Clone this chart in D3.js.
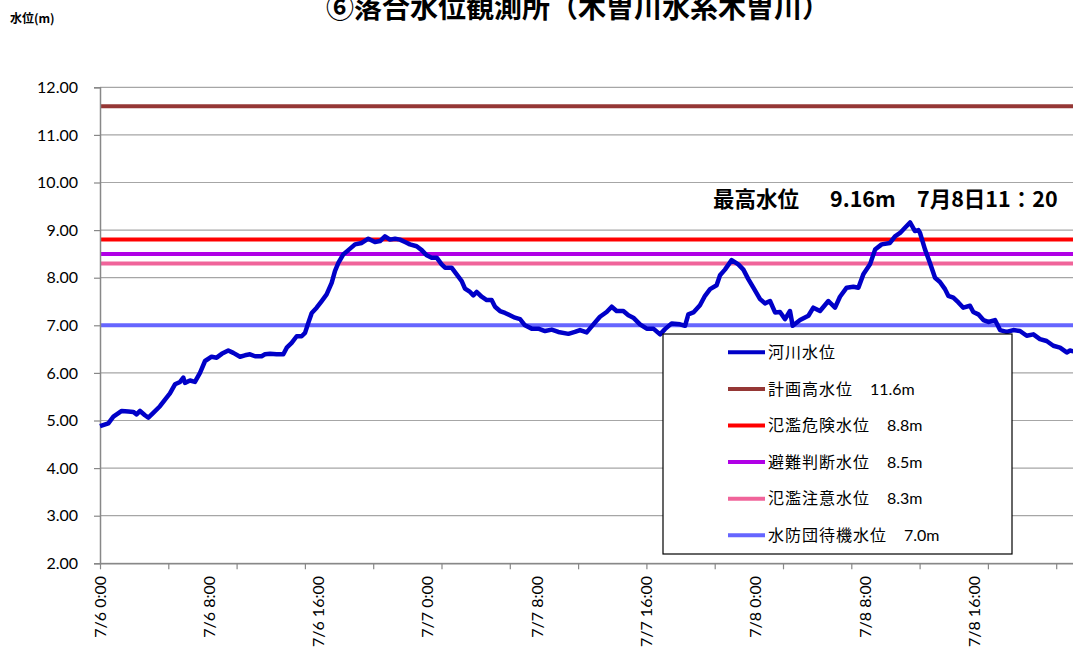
<!DOCTYPE html>
<html><head><meta charset="utf-8">
<script src="https://cdn.jsdelivr.net/npm/d3@7"></script>
<style>
html,body{margin:0;padding:0;background:#fff;overflow:hidden;}
svg{display:block;}
</style></head>
<body>
<svg id="chart" width="1073" height="649"></svg>
<script>
// ---------- data ----------
const chartTitle = "⑥落合水位観測所（木曽川水系木曽川）";
const yAxisTitle = "水位(m)";
const startDate = new Date(2018, 6, 6, 0, 0);   // 7/6 0:00
const endDate = new Date(2018, 6, 9, 0, 0);     // 7/9 0:00
// observation times: hours elapsed since 7/6 0:00
const obsHours = [0.00,0.61,0.98,1.59,2.07,2.44,2.68,2.93,3.29,3.54,3.90,4.39,4.76,5.12,5.49,5.86,6.10,6.22,6.59,6.95,7.32,7.69,8.17,8.54,8.91,9.39,9.76,10.25,10.61,10.98,11.35,11.83,12.08,12.45,12.93,13.42,13.67,14.03,14.40,14.76,15.01,15.25,15.50,15.86,16.23,16.59,16.96,17.20,17.45,17.81,18.18,18.67,19.16,19.64,20.13,20.50,20.86,21.23,21.60,21.96,22.33,22.69,23.18,23.55,23.91,24.28,24.65,25.01,25.26,25.74,26.11,26.48,26.72,27.09,27.33,27.57,27.94,28.31,28.67,28.92,29.28,29.65,30.01,30.38,30.75,31.11,31.60,32.09,32.58,33.07,33.55,34.29,34.77,
35.14,35.63,36.12,36.60,37.09,37.46,37.82,38.31,38.68,39.04,39.53,40.02,40.51,41.00,41.36,41.85,42.46,42.83,43.07,43.44,43.92,44.29,44.66,45.14,45.39,45.75,46.24,46.73,47.10,47.46,47.83,48.32,48.68,49.05,49.42,49.78,50.15,50.51,50.71,51.25,51.86,52.22,52.71,53.32,53.81,54.17,54.66,55.15,55.52,55.88,56.37,56.74,57.22,57.83,58.20,58.57,58.93,59.30,59.66,59.91,60.03,60.40,60.76,61.13,61.49,61.86,62.10,62.47,62.84,63.20,63.69,63.93,64.30,64.67,65.03,65.52,65.89,66.37,66.86,67.35,67.84,68.33,68.81,69.30,69.79,70.28,70.77,71.01,71.30];
// river water level (m)
const riverLevel = [4.88,4.94,5.08,5.20,5.19,5.18,5.13,5.20,5.11,5.06,5.16,5.30,5.44,5.57,5.76,5.81,5.90,5.79,5.84,5.81,6.00,6.25,6.34,6.32,6.40,6.47,6.42,6.34,6.37,6.39,6.35,6.35,6.39,6.40,6.39,6.39,6.53,6.63,6.77,6.77,6.84,7.05,7.26,7.37,7.51,7.65,7.89,8.14,8.31,8.49,8.58,8.70,8.73,8.82,8.75,8.77,8.87,8.80,8.82,8.80,8.75,8.70,8.66,8.58,8.47,8.42,8.42,8.28,8.21,8.21,8.07,7.93,7.77,7.70,7.63,7.70,7.60,7.53,7.53,7.39,7.30,7.26,7.21,7.16,7.13,7.00,6.93,6.93,6.88,6.91,6.86,6.82,6.86,
6.90,6.85,7.02,7.18,7.28,7.39,7.30,7.30,7.21,7.16,7.02,6.93,6.93,6.81,6.92,7.04,7.02,6.99,7.23,7.27,7.42,7.62,7.76,7.84,8.05,8.17,8.37,8.28,8.17,7.97,7.79,7.55,7.46,7.51,7.27,7.28,7.13,7.30,6.99,7.11,7.20,7.37,7.30,7.51,7.37,7.60,7.79,7.81,7.79,8.07,8.28,8.59,8.70,8.73,8.87,8.94,9.05,9.16,8.98,9.00,8.94,8.59,8.31,8.00,7.91,7.76,7.62,7.58,7.48,7.37,7.41,7.28,7.23,7.11,7.07,7.11,6.90,6.86,6.90,6.88,6.78,6.81,6.71,6.67,6.57,6.53,6.43,6.47,6.45];

const refNames  = ["計画高水位", "氾濫危険水位", "避難判断水位", "氾濫注意水位", "水防団待機水位"];
const refLevels = [11.6, 8.8, 8.5, 8.3, 7.0];
const refLabels = ["11.6m", "8.8m", "8.5m", "8.3m", "7.0m"];
const riverName = "河川水位";

const yTicks = [2,3,4,5,6,7,8,9,10,11,12];
const tickEveryHours = 5;
const labelEveryHours = 8;
const lastLabelHour = 64;

const peakLabel = ["最高水位", "9.16m", "7月8日11：20"];

// ---------- styles ----------
const riverColor = "#0000C8";
const refColors = ["#953735", "#FF0000", "#B000E6", "#F0649A", "#6666FF"];
const axisColor = "#888888";
const gridColor = "#A6A6A6";
const latin = "Lato, 'Liberation Sans', sans-serif";
const cjk = "'Noto Sans CJK JP', sans-serif";

// ---------- chart ----------
const W = 1073, H = 649;
const svg = d3.select("#chart");
const left = 100;
const pxPerHour = 13.66;
const x = d3.scaleTime().domain([startDate, endDate])
  .range([left, left + pxPerHour * (endDate - startDate) / 3600000]);
const y = d3.scaleLinear().domain([2, 12]).range([563.3, 87.3]);
const plotRight = W;
const addH = h => new Date(startDate.getTime() + h * 3600000);

// gridlines
svg.append("g").selectAll("line").data(yTicks).join("line")
  .attr("x1", left).attr("x2", plotRight)
  .attr("y1", d => y(d)).attr("y2", d => y(d))
  .attr("stroke", gridColor).attr("stroke-width", 1.2);

// reference lines
svg.append("g").selectAll("line").data(refLevels).join("line")
  .attr("x1", left).attr("x2", plotRight)
  .attr("y1", d => y(d)).attr("y2", d => y(d))
  .attr("stroke", (d, i) => refColors[i]).attr("stroke-width", 4);

// y axis
const yAxis = svg.append("g").attr("transform", `translate(${left},0)`)
  .call(d3.axisLeft(y).tickValues(yTicks).tickFormat(d3.format(".2f")).tickSize(6).tickPadding(16));
yAxis.select(".domain").attr("stroke", axisColor).attr("stroke-width", 1.5);
yAxis.selectAll(".tick line").attr("stroke", axisColor).attr("stroke-width", 1.2);
yAxis.selectAll(".tick text").attr("font-family", latin).attr("font-size", 16).attr("fill", "#000");

// x axis (ticks only)
const tickDates = d3.range(0, 72.01, tickEveryHours).map(addH);
const xAxis = svg.append("g").attr("transform", `translate(0,${y(2)})`)
  .call(d3.axisBottom(x).tickValues(tickDates).tickFormat("").tickSize(6).tickSizeOuter(0));
xAxis.select(".domain").attr("stroke", axisColor).attr("stroke-width", 1.5);
xAxis.selectAll(".tick line").attr("stroke", axisColor).attr("stroke-width", 1.2);

// x labels
const labelDates = d3.range(0, lastLabelHour + 0.01, labelEveryHours).map(addH);
const fmt = d3.timeFormat("%-m/%-d %-H:%M");
svg.append("g").selectAll("text").data(labelDates).join("text")
  .attr("transform", d => `translate(${x(d)},576) rotate(-90)`)
  .attr("text-anchor", "end").attr("dy", "0.35em")
  .attr("font-family", latin).attr("font-size", 16).attr("fill", "#000")
  .text(d => fmt(d));

// river line
const pts = obsHours.slice(0, Math.min(obsHours.length, riverLevel.length))
  .map((h, i) => [addH(h), riverLevel[i]]);
svg.append("path").datum(pts)
  .attr("fill", "none").attr("stroke", riverColor).attr("stroke-width", 4.5)
  .attr("stroke-linejoin", "round")
  .attr("d", d3.line().x(d => x(d[0])).y(d => y(d[1])));

// legend
const lg = svg.append("g");
lg.append("rect").attr("x", 663).attr("y", 334).attr("width", 349).attr("height", 220)
  .attr("fill", "#fff").attr("stroke", "#000").attr("stroke-width", 1.2);
const legendItems = [{name: riverName, label: "", color: riverColor}]
  .concat(refNames.map((n, i) => ({name: n, label: refLabels[i], color: refColors[i]})));
const rowY = i => 352.3 + i * 36.6;
legendItems.forEach((it, i) => {
  lg.append("line").attr("x1", 728).attr("x2", 765).attr("y1", rowY(i)).attr("y2", rowY(i))
    .attr("stroke", it.color).attr("stroke-width", 4);
  lg.append("text").attr("x", 768).attr("y", rowY(i)).attr("dy", "0.36em")
    .attr("font-family", cjk).attr("font-size", 16).attr("letter-spacing", 1).attr("fill", "#000")
    .text(it.name);
  if (it.label) {
    lg.append("text").attr("x", 768 + (it.name.length + 1) * 17).attr("y", rowY(i)).attr("dy", "0.36em")
      .attr("font-family", latin).attr("font-size", 16).attr("fill", "#000")
      .text(it.label);
  }
});

// peak annotation
const peakX = [713, 830, 917];
svg.append("g").selectAll("text").data(peakLabel).join("text")
  .attr("x", (d, i) => peakX[i]).attr("y", 207)
  .attr("font-family", cjk).attr("font-weight", "bold").attr("font-size", 21.5).attr("fill", "#000")
  .text(d => d);

// titles
svg.append("text").attr("x", 578).attr("y", 18).attr("text-anchor", "middle")
  .attr("font-family", cjk).attr("font-weight", "bold").attr("font-size", 28).attr("fill", "#000")
  .text(chartTitle);
svg.append("text").attr("x", 10).attr("y", 23)
  .attr("font-family", cjk).attr("font-weight", "bold").attr("font-size", 12).attr("fill", "#000")
  .text(yAxisTitle);
</script>
</body></html>
